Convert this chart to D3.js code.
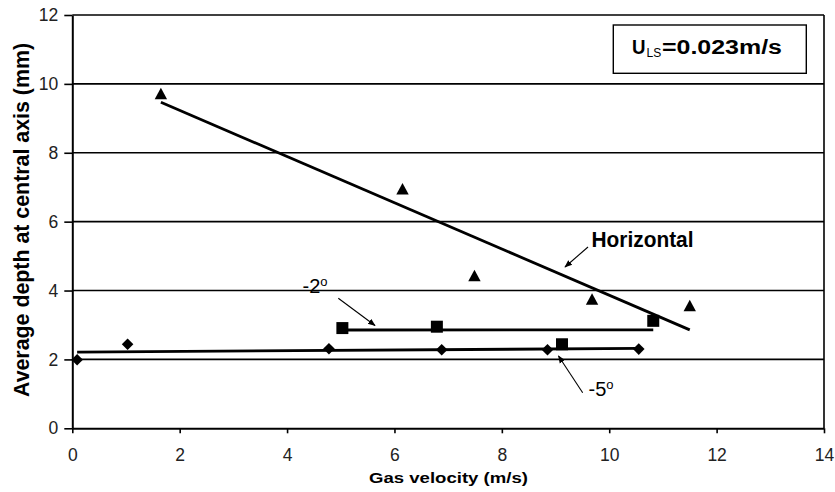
<!DOCTYPE html>
<html>
<head>
<meta charset="utf-8">
<script src="https://cdn.jsdelivr.net/npm/d3@7"></script>
<style>
  html, body { margin: 0; padding: 0; background: #fff; }
  svg { display: block; font-family: "Liberation Sans", Arial, sans-serif; }
</style>
</head>
<body>
<svg id="chart" width="835" height="492"></svg>
<script>
// Measured average depth vs. gas velocity, three inclinations
const horizontalX = [1.65, 6.15, 7.49, 9.68, 11.50];
const horizontalY = [9.71, 6.95, 4.43, 3.75, 3.56];
const minus2X = [5.03, 6.79, 9.12, 10.82];
const minus2Y = [2.91, 2.95, 2.44, 3.12];
const minus5X = [0.09, 1.03, 4.78, 6.88, 8.85, 10.55];
const minus5Y = [1.99, 2.44, 2.31, 2.28, 2.28, 2.30];
const xTicks = [0, 2, 4, 6, 8, 10, 12, 14];
const yTicks = [0, 2, 4, 6, 8, 10, 12];

const svg = d3.select("#chart");
const plotL = 72.3, plotR = 824, plotT = 15, plotB = 428.3;
const x = d3.scaleLinear().domain([0, 14]).range([plotL, plotR]);
const y = d3.scaleLinear().domain([0, 12]).range([plotB, plotT]);

// least-squares trend line over the data's x range
function trend(xs, ys) {
  const n = xs.length, mx = d3.mean(xs), my = d3.mean(ys);
  let sxy = 0, sxx = 0;
  for (let i = 0; i < n; i++) { sxy += (xs[i] - mx) * (ys[i] - my); sxx += (xs[i] - mx) ** 2; }
  const b = sxy / sxx, a = my - b * mx;
  const x0 = d3.min(xs), x1 = d3.max(xs);
  return [[x0, a + b * x0], [x1, a + b * x1]];
}

// horizontal gridlines
svg.append("g").selectAll("line").data(yTicks.filter(v => v > 0)).join("line")
  .attr("x1", plotL).attr("x2", plotR)
  .attr("y1", d => y(d)).attr("y2", d => y(d))
  .attr("stroke", "#000").attr("stroke-width", 1.6);

// right frame edge
svg.append("line").attr("x1", plotR).attr("x2", plotR).attr("y1", plotT).attr("y2", plotB)
  .attr("stroke", "#000").attr("stroke-width", 1.6);

// axes
const yAxis = svg.append("g").attr("transform", `translate(${plotL},0)`)
  .call(d3.axisLeft(y).tickValues(yTicks).tickSize(8).tickSizeOuter(0).tickPadding(6));
const xAxis = svg.append("g").attr("transform", `translate(0,${plotB})`)
  .call(d3.axisBottom(x).tickValues(xTicks).tickSize(5).tickSizeOuter(0).tickPadding(15));
[yAxis, xAxis].forEach(g => {
  g.select(".domain").attr("stroke", "#000").attr("stroke-width", 2);
  g.selectAll(".tick line").attr("stroke", "#000").attr("stroke-width", 1.6);
  g.selectAll(".tick text").attr("fill", "#222").attr("font-size", 17.5)
    .attr("font-family", "'Liberation Sans', Arial, sans-serif");
});

// trend lines
const line = d3.line().x(d => x(d[0])).y(d => y(d[1]));
[[horizontalX, horizontalY], [minus2X, minus2Y], [minus5X, minus5Y]].forEach(([xs, ys]) => {
  svg.append("path").attr("d", line(trend(xs, ys)))
    .attr("fill", "none").attr("stroke", "#000").attr("stroke-width", 2.8);
});

// markers
const tri = (cx, cy) => `M${cx},${cy - 6}L${cx + 6.2},${cy + 5.5}L${cx - 6.2},${cy + 5.5}Z`;
const sq = (cx, cy) => `M${cx - 6},${cy - 6}h12v12h-12Z`;
const dia = (cx, cy) => `M${cx},${cy - 5.8}L${cx + 5.8},${cy}L${cx},${cy + 5.8}L${cx - 5.8},${cy}Z`;
function markers(xs, ys, shape) {
  svg.append("g").selectAll("path").data(xs.map((v, i) => [v, ys[i]])).join("path")
    .attr("d", d => shape(x(d[0]), y(d[1]))).attr("fill", "#000");
}
markers(minus5X, minus5Y, dia);
markers(minus2X, minus2Y, sq);
markers(horizontalX, horizontalY, tri);

// annotation arrows
svg.append("defs").append("marker").attr("id", "head")
  .attr("viewBox", "0 0 10 10").attr("refX", 9).attr("refY", 5)
  .attr("markerWidth", 7).attr("markerHeight", 7).attr("orient", "auto")
  .append("path").attr("d", "M0,1L10,5L0,9Z").attr("fill", "#000");
const arrows = [
  [588, 247, 565, 267],
  [338.3, 298.3, 375, 325.5],
  [582.7, 392.7, 558.5, 356]
];
svg.append("g").selectAll("line").data(arrows).join("line")
  .attr("x1", d => d[0]).attr("y1", d => d[1]).attr("x2", d => d[2]).attr("y2", d => d[3])
  .attr("stroke", "#000").attr("stroke-width", 1.1).attr("marker-end", "url(#head)");

// series labels
svg.append("text").attr("x", 591.5).attr("y", 246.7).attr("font-size", 22).attr("font-weight", "bold")
  .attr("textLength", 102).attr("lengthAdjust", "spacingAndGlyphs").attr("fill", "#000").text("Horizontal");

function degLabel(tx, ty, num) {
  const t = svg.append("text").attr("x", tx).attr("y", ty).attr("font-size", 20).attr("fill", "#000");
  t.append("tspan").text(num);
  t.append("tspan").attr("font-size", 13).attr("dy", -7.5).text("o");
}
degLabel(302.5, 293, "-2");
degLabel(588.5, 396.3, "-5");

// condition box
svg.append("rect").attr("x", 613.3).attr("y", 25).attr("width", 193).attr("height", 48.3)
  .attr("fill", "#fff").attr("stroke", "#000").attr("stroke-width", 1.4);
svg.append("text").attr("x", 632).attr("y", 54.3).attr("font-size", 20).attr("font-weight", "bold")
  .attr("textLength", 13.5).attr("lengthAdjust", "spacingAndGlyphs").text("U");
svg.append("text").attr("x", 646.5).attr("y", 56.7).attr("font-size", 12).text("LS");
svg.append("text").attr("x", 662).attr("y", 54.3).attr("font-size", 20).attr("font-weight", "bold")
  .attr("textLength", 120).attr("lengthAdjust", "spacingAndGlyphs").text("=0.023m/s");

// axis titles
svg.append("text").attr("x", 448.5).attr("y", 483).attr("text-anchor", "middle")
  .attr("font-size", 15.5).attr("font-weight", "bold")
  .attr("textLength", 159).attr("lengthAdjust", "spacingAndGlyphs").text("Gas velocity (m/s)");
svg.append("text").attr("transform", "translate(29,220) rotate(-90)").attr("text-anchor", "middle")
  .attr("font-size", 22).attr("font-weight", "bold")
  .attr("textLength", 354).attr("lengthAdjust", "spacingAndGlyphs").text("Average depth at central axis (mm)");
</script>
</body>
</html>
